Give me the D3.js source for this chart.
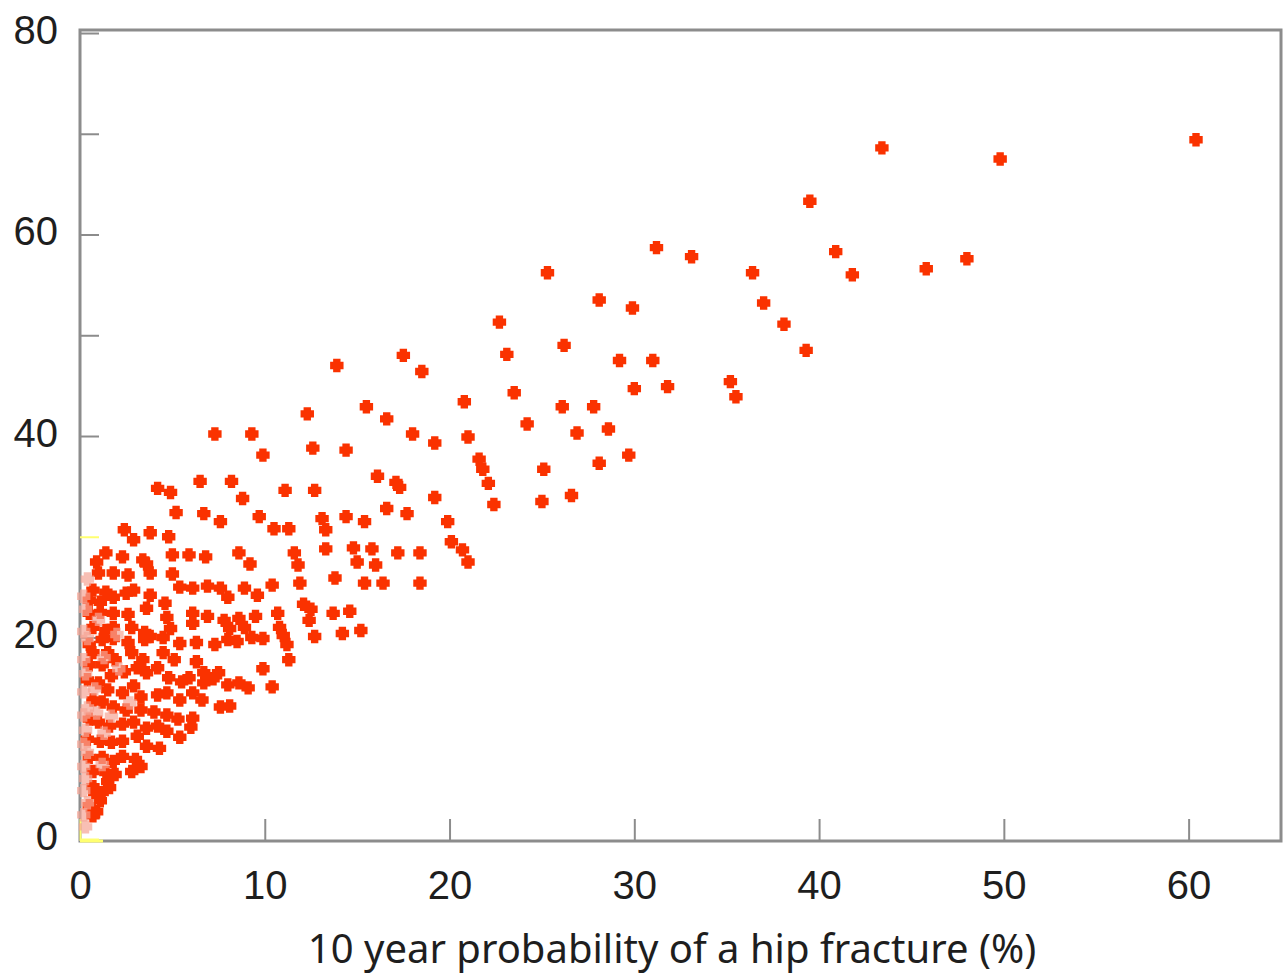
<!DOCTYPE html>
<html>
<head>
<meta charset="utf-8">
<script src="https://cdn.jsdelivr.net/npm/d3@7"></script>
<style>
  body { margin: 0; background: #fff; }
  svg { display: block; font-family: "Noto Sans", sans-serif; }
</style>
</head>
<body>
<div id="chart"></div>
<script>
/**
 * DATA
 * [10 year hip fracture probability (%), y value]
 * */
const points = [
  [60.4,69.4],[43.4,68.6],[49.8,67.5],[39.5,63.3],[31.2,58.7],[33.1,57.8],[40.9,58.3],[41.8,56.0],
  [45.8,56.6],[48.0,57.6],[36.4,56.2],[25.3,56.2],[37.0,53.2],[28.1,53.5],[29.9,52.7],[38.1,51.1],
  [22.7,51.3],[26.2,49.0],[39.3,48.5],[23.1,48.1],[29.2,47.5],[31.0,47.5],[35.2,45.4],[35.5,43.9],
  [30.0,44.7],[31.8,44.9],[23.5,44.3],[20.8,43.4],[24.2,41.2],[26.1,42.9],[27.8,42.9],[26.9,40.3],
  [28.6,40.7],[21.0,39.9],[29.7,38.1],[28.1,37.3],[21.6,37.7],[21.8,36.7],[22.1,35.3],[22.4,33.2],
  [25.1,36.7],[26.6,34.1],[25.0,33.5],
  [17.5,48.0],[18.5,46.4],[13.9,47.0],[12.3,42.2],[15.5,42.9],[16.6,41.7],[18.0,40.2],[19.2,39.3],
  [9.3,40.2],[7.3,40.2],[9.9,38.1],[12.6,38.8],[14.4,38.6],[16.1,36.0],[17.1,35.4],[17.3,34.9],
  [11.1,34.6],[12.7,34.6],[19.2,33.9],[16.6,32.8],[17.7,32.3],[19.9,31.5],[13.1,31.8],[13.3,30.7],
  [14.4,32.0],[15.4,31.5],[10.5,30.8],[11.3,30.8],[20.1,29.5],[20.7,28.7],[21.0,27.5],[11.6,28.4],
  [11.8,27.2],[13.3,28.8],[14.8,28.9],[15.8,28.8],[15.0,27.5],[16.0,27.2],[17.2,28.4],[18.4,28.4],
  [10.4,25.2],[11.9,25.4],[13.8,25.9],[15.4,25.4],[16.4,25.4],[18.4,25.4],[9.6,24.2],[12.1,23.3],
  [12.5,22.8],[12.4,21.7],[13.7,22.4],[14.6,22.6],[10.7,22.4],[10.8,21.0],[11.0,20.2],[12.7,20.1],
  [14.2,20.4],[15.2,20.7],[11.2,19.3],[11.3,17.8],[10.4,15.1],
  [4.2,34.8],[4.9,34.4],[6.5,35.5],[8.2,35.5],[8.8,33.8],[5.2,32.4],[6.7,32.3],[7.6,31.5],
  [9.7,32.0],[2.4,30.7],[2.9,29.7],[3.8,30.4],[4.8,30.0],[1.4,28.4],[0.9,27.5],[2.3,28.0],
  [3.4,27.7],[3.6,27.3],[5.0,28.2],[5.9,28.2],[6.8,28.0],[8.6,28.4],[9.2,27.3],[1.0,26.4],
  [1.8,26.4],[2.6,26.2],[3.8,26.4],[5.0,26.3],[0.7,24.7],[1.4,24.5],[1.8,24.0],[2.5,24.4],
  [2.9,24.7],[3.8,24.2],[4.6,23.4],[5.4,25.0],[6.1,24.9],[6.9,25.1],[7.6,24.9],[8.0,24.0],
  [8.9,24.9],[0.5,23.7],[1.1,23.5],[0.5,22.4],[1.1,22.5],[1.8,22.4],[2.6,22.3],[3.6,22.9],
  [4.7,22.0],[6.1,22.4],[6.9,22.1],[7.8,21.7],[8.6,21.9],[9.5,22.1],[0.7,21.0],[1.4,20.7],
  [1.8,21.0],[2.8,21.0],[3.5,20.5],[4.9,20.9],[6.1,21.4],[8.1,20.9],[8.9,21.0],[0.5,19.3],
  [1.2,19.8],[1.8,19.9],[2.6,19.5],[3.5,19.8],[3.8,20.1],[4.5,20.0],[5.4,19.4],[6.3,19.5],
  [7.3,19.3],[8.0,19.8],[8.5,19.6],[9.3,20.0],[9.9,19.9],[0.7,18.5],[1.5,18.5],[1.9,17.8],
  [2.8,18.5],[3.4,17.8],[4.5,18.5],[5.1,17.8],[6.3,17.6],[6.7,16.5],[7.2,15.9],[8.0,15.3],
  [8.6,15.5],[9.1,15.0],[9.9,16.9],[0.5,17.3],[1.2,17.3],[1.7,16.2],[2.4,16.6],[3.1,17.0],
  [3.6,16.5],[4.2,17.0],[4.8,16.0],[5.5,15.6],[5.9,16.0],[6.7,15.5],[7.5,16.5],[7.6,13.1],
  [8.1,13.2],[6.1,14.5],[5.4,13.8],[6.6,13.8],[5.3,11.9],[6.1,12.0],[6.0,11.1],[5.4,10.1],
  [4.3,9.0],[0.4,15.8],[1.0,15.5],[1.5,14.8],[2.3,14.5],[2.9,15.2],[3.3,14.1],[4.2,14.3],
  [4.7,14.5],[0.7,13.8],[1.2,13.6],[1.8,13.1],[2.5,12.8],[3.3,12.8],[4.0,12.6],[4.7,12.3],
  [0.5,11.9],[1.0,11.6],[1.6,11.2],[2.3,11.4],[2.9,11.6],[3.6,11.0],[4.2,11.2],[4.7,10.7],
  [0.4,9.9],[1.1,9.7],[1.7,9.6],[2.3,9.7],[3.1,10.2],[3.6,9.2],[0.5,8.1],[1.2,8.1],
  [1.8,7.7],[2.3,8.2],[3.0,7.9],[3.3,7.2],[2.8,6.7],[0.7,6.7],[1.4,6.6],[1.9,6.4],
  [0.7,5.2],[1.5,5.7],[1.6,5.1],[0.8,4.6],[1.1,3.8],[1.2,4.6],[0.5,3.3],[0.9,2.7],[0.7,2.3]
];

// pale, washed-out markers along the y axis
const faintPoints = [
  [0.3,1.2],[0.2,2.4],[0.4,3.6],[0.2,4.8],[0.3,6.0],[0.2,7.2],[0.4,8.6],[0.2,9.4],[0.3,10.8],
  [0.2,12.3],[0.4,13.0],[0.2,14.6],[0.3,16.4],[0.2,17.8],[0.4,19.9],[0.2,20.6],[0.3,22.8],
  [0.2,24.1],[0.4,25.8],[0.9,12.5],[1.3,10.5],[0.8,14.9],[1.3,18.0],[2.0,20.3],[1.0,21.8],
  [2.1,16.9],[1.7,12.2],[2.7,13.5],[1.2,7.4]
];

const xTicks = [0, 10, 20, 30, 40, 50, 60];
const yTicks = [0, 10, 20, 30, 40, 50, 60, 70, 80];
const xLabel = "10 year probability of a hip fracture (%)";

/**
 * LAYOUT
 * */
const width = 1285, height = 976;
const margin = { top: 30, right: 4, bottom: 137, left: 80 };

const svg = d3.select("#chart").append("svg")
  .attr("width", width)
  .attr("height", height);

const x = d3.scaleLinear().domain([0, 65]).range([margin.left, width - margin.right]);
const y = d3.scaleLinear().domain([0, 80.3]).range([height - margin.bottom, margin.top]);

const frameColor = "#8c8c8c";
const markColor = "#fa3300";

// blurred look of the markers
const defs = svg.append("defs");
defs.append("filter").attr("id", "soft")
  .append("feGaussianBlur").attr("stdDeviation", 0.6);

// plot frame
svg.append("rect")
  .attr("x", x(0)).attr("y", margin.top)
  .attr("width", x(65) - x(0))
  .attr("height", y(0) - margin.top + 2)
  .attr("fill", "none")
  .attr("stroke", frameColor)
  .attr("stroke-width", 3);

// axes (ticks drawn inward)
const yAxis = svg.append("g")
  .attr("transform", `translate(${x(0)},0)`)
  .call(d3.axisLeft(y).tickValues(yTicks).tickSize(-19).tickPadding(22)
    .tickFormat(d => d % 20 === 0 ? d : ""));

const xAxis = svg.append("g")
  .attr("transform", `translate(0,${y(0) + 2})`)
  .call(d3.axisBottom(x).tickValues(xTicks).tickSize(-22).tickPadding(30));

[xAxis, yAxis].forEach(g => {
  g.select(".domain").remove();
  g.selectAll(".tick line").attr("stroke", frameColor).attr("stroke-width", 2);
  g.selectAll(".tick text")
    .attr("fill", "#1e1e1e")
    .style("font-size", "40px");
});
yAxis.selectAll(".tick text").attr("dy", "0.26em");

// yellow ticks seen in the original
yAxis.selectAll(".tick line")
  .filter(d => d === 30 || d === 0)
  .attr("stroke", "#ffff70");
xAxis.selectAll(".tick line").filter(d => d === 0).attr("stroke", "#ffff70");
svg.append("line")
  .attr("x1", x(0)).attr("x2", x(0) + 23)
  .attr("y1", y(0) + 2).attr("y2", y(0) + 2)
  .attr("stroke", "#ffff70").attr("stroke-width", 3);

// axis title
svg.append("text")
  .attr("x", 672)
  .attr("y", 963)
  .attr("text-anchor", "middle")
  .attr("fill", "#1e1e1e")
  .style("font-size", "40px")
  .text(xLabel);

/**
 * MARKERS
 * */
const plusBlob = {
  draw(ctx, size) {
    const r = Math.sqrt(size) / 2, t = r * 0.55;
    ctx.moveTo(-r, -t); ctx.lineTo(-t, -t); ctx.lineTo(-t, -r); ctx.lineTo(t, -r);
    ctx.lineTo(t, -t); ctx.lineTo(r, -t); ctx.lineTo(r, t); ctx.lineTo(t, t);
    ctx.lineTo(t, r); ctx.lineTo(-t, r); ctx.lineTo(-t, t); ctx.lineTo(-r, t);
    ctx.closePath();
  }
};
const marker = d3.symbol().type(plusBlob).size(180);

svg.append("g")
  .attr("filter", "url(#soft)")
  .selectAll("path")
  .data(points)
  .join("path")
  .attr("transform", d => `translate(${x(d[0])},${y(d[1])})`)
  .attr("d", marker)
  .attr("fill", markColor);

svg.append("g")
  .attr("filter", "url(#soft)")
  .selectAll("path")
  .data(faintPoints)
  .join("path")
  .attr("transform", d => `translate(${x(d[0])},${y(d[1])})`)
  .attr("d", marker)
  .attr("fill", "#f5a494")
  .attr("fill-opacity", 0.7);
</script>
</body>
</html>
